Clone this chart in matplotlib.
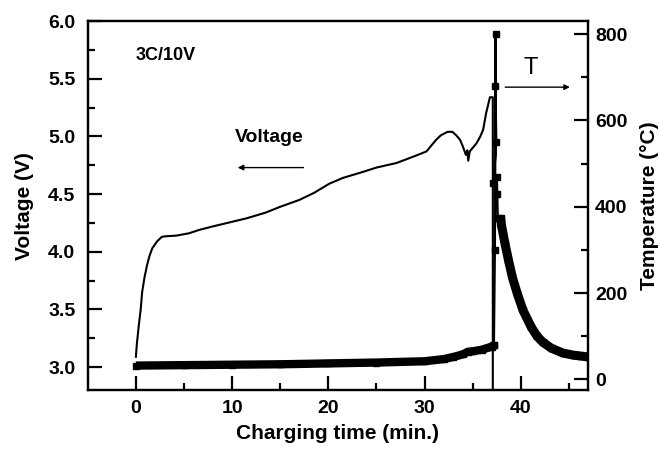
import matplotlib
matplotlib.use('Agg')
import matplotlib.pyplot as plt

plt.rcParams['font.family'] = ['Liberation Sans', 'DejaVu Sans']
plt.rcParams['font.weight'] = 'bold'

# Voltage curve (min, V)
volt_time = [0, 0.1, 0.3, 0.5, 0.65, 0.9, 1.15, 1.4, 1.7, 2.2, 2.7, 3.2, 4.2, 5.5,
             6.6, 8, 10, 11.5, 13.5, 15, 17, 18.5, 20.1, 21.5, 23.5, 25, 27.1, 29,
             30.2, 31.2, 31.7, 32.4, 32.9, 33.3, 33.7, 34.0, 34.3, 34.45, 34.55,
             34.7, 35.4, 35.8, 36.1, 36.4, 36.6, 36.8, 37.1, 37.1]
volt_vals = [3.09, 3.2, 3.36, 3.5, 3.65, 3.78, 3.88, 3.96, 4.03, 4.09, 4.13, 4.135,
             4.14, 4.16, 4.19, 4.22, 4.26, 4.29, 4.34, 4.39, 4.45, 4.51, 4.59, 4.64,
             4.69, 4.73, 4.77, 4.83, 4.87, 4.97, 5.01, 5.04, 5.04, 5.01, 4.97, 4.91,
             4.84, 4.88, 4.79, 4.87, 4.94, 5.0, 5.06, 5.20, 5.27, 5.34, 5.34, 2.5]

# Temperature before runaway (dense markers -> band)
temp_pre_time = [0, 5, 10, 15, 20, 25, 30, 32, 33, 34, 34.5, 35, 36, 37, 37.2]
temp_pre_vals = [32, 33, 34, 35, 37, 39, 42, 47, 52, 58, 64, 65, 69, 76, 80]

# Temperature spike
temp_spike_time = [37.2, 37.3, 37.4, 37.35, 37.45, 37.15, 37.5, 37.55, 37.6, 37.9]
temp_spike_vals = [80, 300, 800, 680, 549, 454, 470, 429, 375, 357]

# Temperature decay (dense markers -> band)
temp_decay_time = [37.9, 38.0, 38.37, 38.73, 39.13, 39.64, 40.24, 41.1, 41.7,
                   42.3, 43.2, 44.4, 45.5, 46.3, 47]
temp_decay_vals = [375, 357, 314, 276, 237, 199, 160, 121, 100,
                   86, 72, 61, 56, 54, 52]

fig = plt.figure(figsize=(6.6, 4.49), dpi=100)
ax = fig.add_axes([0.133, 0.131, 0.758, 0.822])
ax2 = ax.twinx()

ax.plot(volt_time, volt_vals, color='black', linewidth=1.5, zorder=3)

ax2.plot(temp_pre_time, temp_pre_vals, color='black', linewidth=6,
         solid_capstyle='butt', solid_joinstyle='round', marker='s', markersize=5)
ax2.plot(temp_spike_time, temp_spike_vals, color='black', linewidth=1.8,
         marker='s', markersize=5)
ax2.plot(temp_decay_time, temp_decay_vals, color='black', linewidth=6.5,
         solid_capstyle='butt', solid_joinstyle='round', marker='s', markersize=5)

ax.set_xlim(-5, 47)
ax.set_ylim(2.8, 6.0)
ax2.set_ylim(-25, 830)

ax.set_xticks([0, 10, 20, 30, 40])
ax.set_xticks([5, 15, 25, 35, 45], minor=True)
ax.set_yticks([3.0, 3.5, 4.0, 4.5, 5.0, 5.5, 6.0])
ax.set_yticks([3.25, 3.75, 4.25, 4.75, 5.25, 5.75], minor=True)
ax2.set_yticks([0, 200, 400, 600, 800])
ax2.set_yticks([100, 300, 500, 700], minor=True)

for a in (ax, ax2):
    for s in a.spines.values():
        s.set_linewidth(1.6)
    a.tick_params(which='major', direction='in', length=10, width=1.6, labelsize=14)
    a.tick_params(which='minor', direction='in', length=5, width=1.6)
ax.tick_params(axis='y', which='both', right=False, pad=9)
ax.tick_params(axis='x', which='both', top=False, pad=7)
ax2.tick_params(axis='y', pad=5)

ax.set_xlabel('Charging time (min.)', fontsize=15, fontweight='bold', labelpad=5)
ax.set_ylabel('Voltage (V)', fontsize=15, fontweight='bold', labelpad=10)
ax2.set_ylabel('Temperature (°C)', fontsize=15, fontweight='bold', labelpad=9)

ax.text(0, 5.70, '3C/10V', fontsize=13, fontweight='bold', ha='left', va='center')
ax.text(10.3, 4.99, 'Voltage', fontsize=14, fontweight='bold', ha='left', va='center')
ax.annotate('', xy=(10.3, 4.73), xytext=(17.7, 4.73),
            arrowprops=dict(arrowstyle='-|>', color='black', lw=1, mutation_scale=8))
ax2.text(41, 721, 'T', fontsize=17, fontweight='normal', ha='center', va='center')
ax2.annotate('', xy=(45.4, 677), xytext=(38.1, 677),
             arrowprops=dict(arrowstyle='-|>', color='black', lw=1, mutation_scale=8))

fig.savefig('out.png', dpi=100)
